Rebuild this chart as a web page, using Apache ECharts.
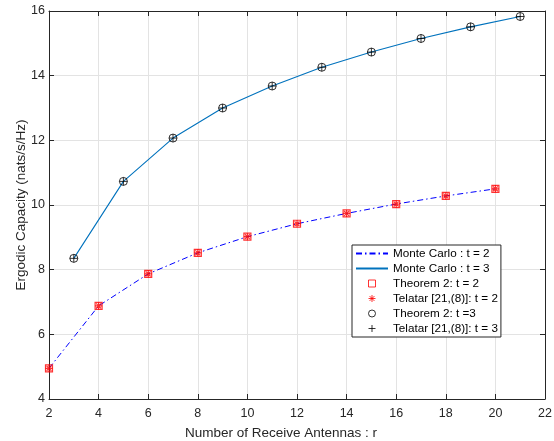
<!DOCTYPE html>
<html>
<head>
<meta charset="utf-8">
<script src="https://cdn.jsdelivr.net/npm/echarts@6/dist/echarts.min.js"></script>
<style>html,body{margin:0;padding:0;background:#fff}#c{width:554px;height:441px}</style>
</head>
<body>
<div id="c"></div>
<script>
var xT2 = [2, 4, 6, 8, 10, 12, 14, 16, 18, 20];
var mcT2 = [4.95, 6.88, 7.87, 8.52, 9.02, 9.42, 9.74, 10.03, 10.28, 10.50];
var thT2 = [4.95, 6.88, 7.87, 8.52, 9.02, 9.42, 9.74, 10.03, 10.28, 10.50];
var xT3 = [3, 5, 7, 9, 11, 13, 15, 17, 19, 21];
var mcT3 = [8.35, 10.73, 12.07, 13.00, 13.68, 14.26, 14.73, 15.15, 15.51, 15.83];
var thT3 = [8.35, 10.73, 12.07, 13.00, 13.68, 14.26, 14.73, 15.15, 15.51, 15.83];
var names = ['Monte Carlo : t = 2', 'Monte Carlo : t = 3', 'Theorem 2: t = 2', 'Telatar [21,(8)]: t = 2', 'Theorem 2: t =3', 'Telatar [21,(8)]: t = 3'];

function pairs(xs, ys) { return xs.map(function (x, i) { return [x, ys[i]]; }); }

var FONT = '"Liberation Sans", Arial, Helvetica, sans-serif';
var AX = '#262626';
var SQUARE = 'path://M0 0L10 0L10 10L0 10Z';
var STAR = 'path://M5 0L5 10M0 5L10 5M1.5 1.5L8.5 8.5M8.5 1.5L1.5 8.5';
var CIRCLE = 'path://M10 5A5 5 0 1 1 0 5A5 5 0 1 1 10 5Z';
var PLUS = 'path://M5 0L5 10M0 5L10 5';
var CLEAR = 'rgba(0,0,0,0)';

var chart = echarts.init(document.getElementById('c'), null, {renderer: 'canvas'});
var axisCommon = {
  axisLine: {show: true, onZero: false, lineStyle: {color: AX, width: 1}},
  axisTick: {show: true, inside: true, length: 5, lineStyle: {color: AX}},
  axisLabel: {color: AX, fontSize: 12.5, fontFamily: FONT},
  splitLine: {show: false}
};
chart.setOption({
  animation: false,
  backgroundColor: '#fff',
  grid: {left: 49, right: 9, top: 11, bottom: 42, containLabel: false, outerBoundsMode: 'none'},
  xAxis: [
    Object.assign({}, axisCommon, {
      type: 'value', min: 2, max: 22, interval: 2, position: 'bottom',
      name: 'Number of Receive Antennas : r', nameLocation: 'middle', nameGap: 27,
      nameTextStyle: {color: AX, fontSize: 13.5, fontFamily: FONT, padding: [0, 32, 0, 0]},
      axisLabel: {color: AX, fontSize: 12.5, fontFamily: FONT, margin: 8},
      splitLine: {show: true, lineStyle: {color: '#e3e3e3', width: 1}}
    }),
    Object.assign({}, axisCommon, {
      type: 'value', min: 2, max: 22, interval: 2, position: 'top',
      axisLabel: {show: false}
    })
  ],
  yAxis: [
    Object.assign({}, axisCommon, {
      type: 'value', min: 4, max: 16, interval: 2, position: 'left',
      name: 'Ergodic Capacity (nats/s/Hz)', nameLocation: 'middle', nameGap: 21,
      nameMoveOverlap: false,
      nameTextStyle: {color: AX, fontSize: 13.5, fontFamily: FONT},
      axisLabel: {color: AX, fontSize: 12.5, fontFamily: FONT, margin: 4},
      splitLine: {show: true, lineStyle: {color: '#e3e3e3', width: 1}}
    }),
    Object.assign({}, axisCommon, {
      type: 'value', min: 4, max: 16, interval: 2, position: 'right',
      axisLabel: {show: false}
    })
  ],
  legend: {
    orient: 'vertical', left: 352, top: 245,
    backgroundColor: '#fff', borderColor: AX, borderWidth: 1, borderRadius: 0,
    padding: [1, 3, 1, 3],
    itemWidth: 32, itemHeight: 7, itemGap: 0,
    symbolKeepAspect: true,
    textStyle: {color: '#000', fontSize: 11.7, fontFamily: FONT, lineHeight: 15},
    data: [
      {name: names[0], itemStyle: {color: CLEAR, borderWidth: 0, opacity: 0}},
      {name: names[1], itemStyle: {color: CLEAR, borderWidth: 0, opacity: 0}},
      {name: names[2], itemStyle: {color: CLEAR, borderColor: '#ff0000', borderWidth: 1}},
      {name: names[3], itemStyle: {color: CLEAR, borderColor: '#ff0000', borderWidth: 1}},
      {name: names[4], itemStyle: {color: CLEAR, borderColor: '#000', borderWidth: 1}},
      {name: names[5], itemStyle: {color: CLEAR, borderColor: '#000', borderWidth: 1}}
    ]
  },
  series: [
    {name: names[0], type: 'line', data: pairs(xT2, mcT2), symbol: 'none', z: 2,
     lineStyle: {color: '#0000ff', width: 1, type: [6, 3, 1.5, 3]}, itemStyle: {color: '#0000ff'}},
    {name: names[1], type: 'line', data: pairs(xT3, mcT3), symbol: 'none', z: 2,
     lineStyle: {color: '#0072bd', width: 1.1, type: 'solid'}, itemStyle: {color: '#0072bd'}},
    {name: names[2], type: 'scatter', data: pairs(xT2, thT2), symbol: SQUARE, symbolSize: 7, z: 3,
     itemStyle: {color: CLEAR, borderColor: '#ff0000', borderWidth: 1.2}},
    {name: names[3], type: 'scatter', data: pairs(xT2, mcT2), symbol: STAR, symbolSize: 7, z: 4,
     itemStyle: {color: CLEAR, borderColor: '#ff0000', borderWidth: 1.2}},
    {name: names[4], type: 'scatter', data: pairs(xT3, thT3), symbol: CIRCLE, symbolSize: 8, z: 3,
     itemStyle: {color: CLEAR, borderColor: '#000', borderWidth: 1}},
    {name: names[5], type: 'scatter', data: pairs(xT3, mcT3), symbol: PLUS, symbolSize: 8, z: 4,
     itemStyle: {color: CLEAR, borderColor: '#000', borderWidth: 1}}
  ]
});
</script>
</body>
</html>
